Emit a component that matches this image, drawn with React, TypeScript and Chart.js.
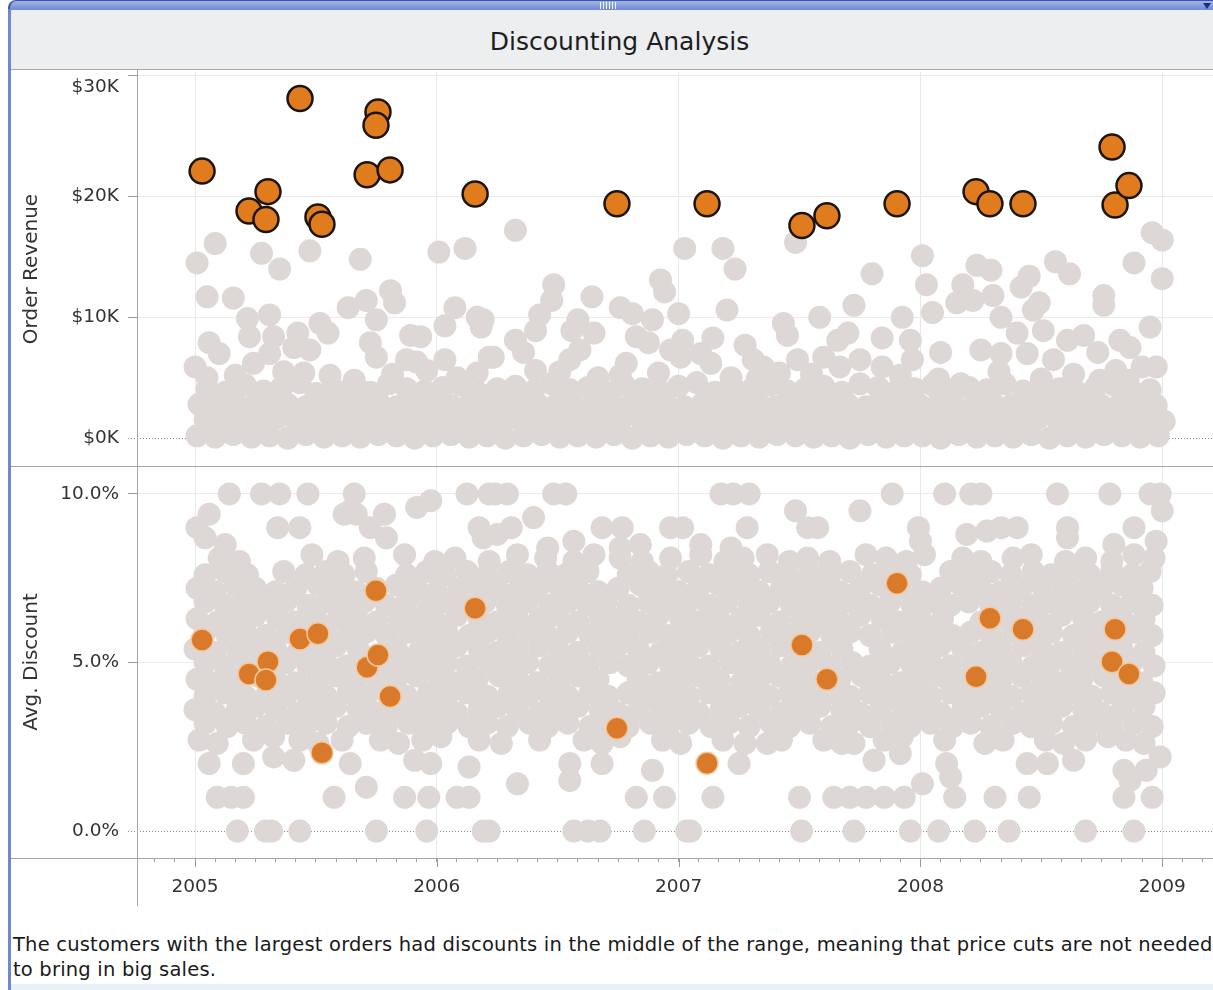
import React, { useEffect, useRef } from 'react';
import { Chart, registerables } from 'chart.js';

Chart.register(...registerables);

// ---------- DATA (x = months since Jan 2005) ----------
const yearTicks = [2005, 2006, 2007, 2008, 2009];

// highlighted largest orders
const bigOrderMonths = [0.35, 2.68, 3.62, 3.52, 5.21, 6.10, 6.30, 8.54, 9.08, 8.98, 9.68, 13.90, 20.94, 25.41, 30.12, 31.36, 34.84, 38.76, 39.45, 41.09, 45.51, 45.66, 46.35];
const bigOrderRevenueK = [22.1, 18.8, 20.4, 18.1, 28.1, 18.3, 17.7, 21.8, 27.0, 25.9, 22.2, 20.2, 19.4, 19.4, 17.6, 18.4, 19.4, 20.4, 19.4, 19.4, 24.1, 19.3, 20.9];
const bigOrderDiscountPct = [5.67, 4.66, 5.02, 4.48, 5.70, 5.85, 2.32, 4.86, 5.22, 7.13, 3.99, 6.61, 3.05, 2.01, 5.52, 4.50, 7.35, 4.58, 6.31, 5.99, 5.02, 5.99, 4.66];

// all other orders: [month, revenue $K] - dense band of small orders
const revenueBand = [
  [0.1,0.2],[1.0,0.1],[1.9,0.3],[2.8,0.1],[3.7,0.2],[4.6,0.0],[5.5,0.3],[6.4,0.1],[7.3,0.2],[8.2,0.1],[9.1,0.3],[10.0,0.2],[10.9,0.0],[11.8,0.2],[12.7,0.3],[13.6,0.1],[14.5,0.2],[15.4,0.0],[16.3,0.2],[17.2,0.3],[18.1,0.1],[19.0,0.2],[19.9,0.1],[20.8,0.3],[21.7,0.0],[22.6,0.2],[23.5,0.1],[24.4,0.3],[25.3,0.2],[26.2,0.0],[27.1,0.2],[28.0,0.1],[28.9,0.3],[29.8,0.2],[30.7,0.1],[31.6,0.2],[32.5,0.0],[33.4,0.3],[34.3,0.1],[35.2,0.2],[36.1,0.2],[37.0,0.0],[37.9,0.3],[38.8,0.1],[39.7,0.2],[40.6,0.1],[41.5,0.3],[42.4,0.0],[43.3,0.2],[44.2,0.1],[45.1,0.3],[46.0,0.2],[46.9,0.1],[47.8,0.2],
  [0.5,1.5],[1.4,1.3],[2.3,1.6],[3.3,1.4],[4.1,1.7],[5.0,1.5],[6.0,1.3],[6.8,1.6],[7.7,1.4],[8.7,1.5],[9.5,1.7],[10.4,1.3],[11.4,1.5],[12.2,1.6],[13.1,1.4],[14.1,1.5],[14.9,1.3],[15.8,1.7],[16.8,1.5],[17.6,1.4],[18.5,1.6],[19.5,1.3],[20.3,1.5],[21.2,1.6],[22.2,1.4],[23.0,1.7],[23.9,1.5],[24.9,1.3],[25.7,1.6],[26.6,1.4],[27.6,1.5],[28.4,1.7],[29.3,1.3],[30.3,1.5],[31.1,1.6],[32.0,1.4],[33.0,1.5],[33.8,1.3],[34.7,1.7],[35.7,1.5],[36.5,1.4],[37.4,1.6],[38.4,1.3],[39.2,1.5],[40.1,1.6],[41.1,1.4],[41.9,1.7],[42.8,1.5],[43.8,1.3],[44.6,1.6],[45.5,1.4],[46.5,1.5],[47.3,1.7],[48.1,1.4],
  [0.2,2.8],[1.1,2.6],[2.0,2.9],[2.9,2.7],[3.8,3.0],[4.6,2.8],[5.5,2.6],[6.4,2.9],[7.3,2.7],[8.2,2.8],[9.1,3.0],[10.0,2.6],[10.9,2.8],[11.8,2.9],[12.7,2.7],[13.6,2.8],[14.4,2.6],[15.3,3.0],[16.2,2.8],[17.1,2.7],[18.0,2.9],[18.9,2.6],[19.8,2.8],[20.7,2.9],[21.6,2.7],[22.5,3.0],[23.4,2.8],[24.3,2.6],[25.2,2.9],[26.1,2.7],[27.0,2.8],[27.9,3.0],[28.8,2.6],[29.7,2.8],[30.6,2.9],[31.5,2.7],[32.4,2.8],[33.3,2.6],[34.2,3.0],[35.1,2.8],[36.0,2.7],[36.9,2.9],[37.8,2.6],[38.7,2.8],[39.6,2.9],[40.5,2.7],[41.4,3.0],[42.3,2.8],[43.2,2.6],[44.1,2.9],[45.0,2.7],[45.9,2.8],[46.8,3.0],[47.7,2.7],
  [0.6,4.1],[1.5,3.8],[2.5,4.4],[3.4,3.9],[4.3,4.2],[5.2,4.6],[6.0,3.7],[6.9,4.0],[7.8,4.3],[8.7,3.8],[9.6,4.5],[10.5,4.1],[11.4,3.9],[12.3,4.2],[13.2,4.4],[14.1,3.7],[15.0,4.1],[15.9,4.3],[16.8,3.9],[17.7,4.5],[18.6,4.0],[19.5,4.2],[20.4,3.8],[21.3,4.4],[22.2,4.1],[23.1,3.9],[24.0,4.3],[24.9,4.6],[25.8,3.8],[26.7,4.2],[27.6,4.0],[28.5,4.4],[29.4,3.9],[30.3,4.1],[31.2,4.3],[32.1,3.8],[33.0,4.5],[33.9,4.2],[34.8,3.9],[35.7,4.1],[36.6,4.4],[37.5,3.7],[38.4,4.2],[39.3,4.0],[40.2,4.5],[41.1,3.9],[42.0,4.3],[42.9,4.1],[43.8,3.8],[44.7,4.2],[45.6,4.4],[46.5,3.9],[47.4,4.0],
];

// other orders above the band: [month, revenue $K]
const revenueSpread = [
  [1.0,16.1],[0.1,14.5],[3.3,15.3],[4.2,14.0],[5.7,15.5],[8.2,14.8],[12.1,15.4],[13.4,15.7],
  [0.6,11.7],[1.9,11.6],[2.6,9.9],[3.7,10.2],[6.2,9.5],[7.6,10.8],[8.5,11.4],[9.7,12.2],[9.9,11.2],[9.0,9.8],[12.9,10.8],[14.0,10.0],[12.4,9.3],[14.2,9.2],
  [2.7,8.4],[3.9,8.4],[5.1,8.7],[6.6,8.7],[0.7,7.9],[1.2,7.0],[2.9,6.2],[3.7,7.0],[4.9,7.5],[5.7,7.3],[8.7,7.9],[9.0,6.7],[10.7,8.5],[11.2,8.4],[10.5,6.5],[11.0,6.3],[12.4,6.5],[14.6,6.7],[14.0,5.4],[0.0,5.9],[0.6,5.0],
  [4.4,5.5],[5.4,5.4],[6.7,5.2],[7.9,4.8],[11.5,5.6],[13.0,5.0],[2.0,5.2],[9.8,5.3],
  [15.9,17.2],[24.3,15.7],[26.2,15.7],[26.8,14.0],[23.1,13.1],[23.3,12.1],[17.8,12.7],[17.7,11.4],[19.7,11.7],[24.0,10.3],[26.4,10.6],[31.0,10.0],[14.3,9.8],[17.1,10.2],[16.9,8.9],[19.0,9.8],[18.7,8.9],[19.8,8.7],[21.1,10.8],[21.7,10.3],[22.7,9.8],[29.2,9.5],[29.4,8.5],[31.9,8.1],[15.9,8.1],[16.3,7.1],[14.8,6.7],[19.1,7.3],[21.9,8.4],[22.5,7.9],[24.2,8.1],[25.7,8.3],[27.3,7.7],[18.6,6.5],[21.4,6.2],[23.6,7.3],[24.1,6.7],[25.1,7.0],[25.6,6.2],[27.7,6.5],[28.2,5.9],[29.9,6.5],[31.2,6.7],[29.0,5.4],[18.1,5.5],[21.1,5.2],[26.6,5.0],[16.9,5.6],[20.0,5.0],[23.0,5.4],[27.9,4.9],[30.6,5.3],
  [29.8,16.2],
  [47.5,17.0],[48.0,16.4],[36.1,15.1],[33.6,13.6],[38.8,14.3],[39.5,13.9],[42.7,14.6],[43.4,13.6],[46.6,14.5],[48.0,13.2],[36.3,12.7],[38.1,12.7],[41.0,12.5],[41.4,13.4],[39.6,11.8],[45.1,11.8],[32.7,11.0],[35.1,10.0],[36.6,10.4],[37.8,11.2],[38.6,11.4],[40.0,10.0],[41.9,11.2],[41.6,10.6],[45.1,11.0],[47.4,9.2],[32.4,8.7],[34.1,8.3],[35.5,8.1],[40.8,8.7],[42.1,8.9],[43.3,8.1],[44.1,8.5],[45.9,8.1],[46.4,7.5],[39.0,7.3],[37.0,7.1],[35.6,6.5],[34.1,5.9],[33.0,6.5],[40.0,7.0],[41.3,7.0],[42.6,6.5],[44.8,7.1],[47.0,5.9],[47.7,5.9],[32.0,5.9],[38.0,4.5],[44.9,4.8],[46.3,4.8],
  [35.0,5.2],[36.9,4.9],[39.9,5.5],[42.0,4.9],[43.6,5.3],[45.7,5.6],
];

// all other orders: [month, avg discount %] - the main cloud
const discountCloudUpper = [
  [1.2,8.1],[2.2,8.0],[5.8,8.2],[7.1,8.0],[8.4,8.1],[10.4,8.2],[11.9,8.0],[12.9,8.1],[14.6,8.0],[16.0,8.2],[17.4,8.1],[18.8,8.0],[19.8,8.2],[21.1,8.1],[22.2,8.0],[23.6,8.1],[25.1,8.2],[26.3,8.0],[27.2,8.1],[28.4,8.2],[29.5,8.0],[30.4,8.1],[31.5,8.0],[33.3,8.2],[34.3,8.1],[35.3,8.0],[36.2,8.2],[38.1,8.1],[39.0,8.0],[40.6,8.1],[41.5,8.2],[43.2,8.0],[44.2,8.1],[45.5,8.0],[46.6,8.2],[47.6,8.1],
  [0.5,7.6],[1.5,7.7],[2.6,7.6],[4.4,7.7],[5.5,7.6],[6.5,7.7],[7.4,7.6],[8.5,7.7],[10.5,7.6],[11.5,7.7],[12.4,7.6],[13.5,7.7],[14.5,7.6],[15.6,7.7],[16.5,7.6],[17.5,7.7],[18.4,7.6],[19.5,7.7],[21.5,7.6],[22.5,7.7],[23.4,7.6],[24.5,7.7],[25.5,7.6],[26.6,7.7],[27.5,7.6],[28.5,7.7],[29.4,7.6],[30.5,7.7],[31.5,7.6],[32.5,7.7],[33.6,7.6],[34.5,7.7],[35.5,7.6],[37.5,7.7],[38.4,7.6],[39.5,7.7],[40.5,7.6],[41.6,7.7],[42.5,7.6],[43.5,7.7],[44.4,7.6],[45.5,7.7],[46.5,7.6],[47.4,7.7],
  [0.1,7.2],[1.0,7.1],[2.0,7.3],[3.0,7.2],[4.0,7.1],[5.0,7.2],[6.1,7.3],[7.0,7.2],[8.0,7.1],[9.0,7.2],[10.0,7.3],[11.0,7.2],[12.0,7.1],[13.1,7.2],[14.0,7.3],[15.0,7.2],[16.0,7.1],[17.0,7.2],[18.0,7.3],[19.0,7.2],[20.0,7.1],[21.0,7.2],[22.1,7.3],[23.0,7.2],[24.0,7.1],[25.0,7.2],[26.0,7.3],[27.0,7.2],[28.0,7.1],[29.1,7.2],[30.0,7.3],[31.0,7.2],[32.0,7.1],[33.0,7.2],[34.0,7.3],[35.0,7.2],[36.1,7.1],[37.0,7.2],[38.0,7.3],[39.0,7.2],[40.0,7.1],[41.0,7.2],[42.0,7.3],[43.1,7.2],[44.0,7.1],[45.0,7.2],[46.0,7.3],[47.0,7.2],
  [0.5,6.8],[1.5,6.7],[2.4,6.8],[3.5,6.7],[4.5,6.8],[5.6,6.7],[6.5,6.8],[7.5,6.7],[8.4,6.8],[9.5,6.7],[10.5,6.8],[11.6,6.7],[12.5,6.8],[13.5,6.7],[14.4,6.8],[15.5,6.7],[16.5,6.8],[17.6,6.7],[18.5,6.8],[19.5,6.7],[20.4,6.8],[21.5,6.7],[22.5,6.8],[23.6,6.7],[24.5,6.8],[25.5,6.7],[26.4,6.8],[27.5,6.7],[28.5,6.8],[29.6,6.7],[30.5,6.8],[31.5,6.7],[32.4,6.8],[33.5,6.7],[34.5,6.8],[35.6,6.7],[36.5,6.8],[37.5,6.7],[38.4,6.8],[39.5,6.7],[40.5,6.8],[41.6,6.7],[42.5,6.8],[43.5,6.7],[44.4,6.8],[45.5,6.7],[46.5,6.8],[47.5,6.7],
];

const discountCloudMiddle = [
  [0.1,6.3],[1.1,6.2],[2.0,6.3],[3.0,6.4],[4.1,6.3],[5.0,6.2],[6.0,6.3],[7.1,6.3],[8.0,6.4],[9.0,6.2],[10.1,6.3],[11.0,6.3],[12.0,6.2],[13.0,6.4],[14.1,6.3],[15.0,6.2],[16.0,6.3],[17.1,6.3],[18.0,6.4],[19.0,6.2],[20.1,6.3],[21.0,6.3],[22.0,6.2],[23.0,6.4],[24.1,6.3],[25.0,6.2],[26.0,6.3],[27.1,6.3],[28.0,6.4],[29.0,6.2],[30.1,6.3],[31.0,6.3],[32.0,6.2],[33.0,6.4],[34.1,6.3],[35.0,6.2],[36.0,6.3],[37.1,6.3],[39.0,6.2],[40.1,6.3],[41.0,6.3],[42.0,6.2],[43.0,6.4],[44.1,6.3],[45.0,6.2],[46.0,6.3],[47.1,6.3],
  [0.5,5.9],[1.6,5.8],[2.5,5.9],[3.5,5.8],[4.6,5.9],[5.5,5.8],[6.5,5.9],[7.6,5.8],[8.5,5.9],[9.5,5.8],[10.6,5.9],[11.5,5.8],[12.5,5.9],[13.6,5.8],[14.5,5.9],[15.5,5.8],[16.6,5.9],[17.5,5.8],[18.5,5.9],[19.6,5.8],[20.5,5.9],[21.5,5.8],[22.6,5.9],[23.5,5.8],[24.5,5.9],[25.6,5.8],[26.5,5.9],[27.5,5.8],[28.6,5.9],[29.5,5.8],[30.5,5.9],[31.6,5.8],[32.5,5.9],[33.5,5.8],[34.6,5.9],[35.5,5.8],[36.5,5.9],[37.6,5.8],[38.5,5.9],[39.5,5.8],[40.6,5.9],[41.5,5.8],[42.5,5.9],[43.6,5.8],[44.5,5.9],[45.5,5.8],[46.6,5.9],[47.5,5.8],
  [0.0,5.4],[1.0,5.3],[2.1,5.4],[3.0,5.5],[4.0,5.4],[5.1,5.3],[6.0,5.4],[7.0,5.5],[8.1,5.4],[10.0,5.4],[11.1,5.3],[12.0,5.4],[13.0,5.5],[14.1,5.4],[15.0,5.3],[16.0,5.4],[17.1,5.5],[18.0,5.4],[19.0,5.3],[20.1,5.4],[21.0,5.5],[22.0,5.4],[23.1,5.3],[24.0,5.4],[25.0,5.5],[26.1,5.4],[27.0,5.3],[28.0,5.4],[29.1,5.5],[30.0,5.4],[31.0,5.3],[32.1,5.4],[34.0,5.4],[35.1,5.3],[36.0,5.4],[37.0,5.5],[38.1,5.4],[39.0,5.3],[40.0,5.4],[41.1,5.5],[42.0,5.4],[43.0,5.3],[44.1,5.4],[45.0,5.5],[46.0,5.4],[47.1,5.3],
  [0.5,5.0],[1.5,4.9],[2.6,5.0],[3.5,4.9],[4.5,5.0],[5.6,4.9],[6.5,5.0],[7.5,4.9],[8.6,5.0],[9.5,4.9],[10.5,5.0],[11.6,4.9],[12.5,5.0],[13.5,4.9],[14.6,5.0],[15.5,4.9],[16.5,5.0],[17.6,4.9],[18.5,5.0],[19.5,4.9],[20.6,5.0],[21.5,4.9],[22.5,5.0],[23.6,4.9],[24.5,5.0],[25.5,4.9],[26.6,5.0],[27.5,4.9],[28.5,5.0],[29.6,4.9],[30.5,5.0],[31.5,4.9],[32.6,5.0],[33.5,4.9],[34.5,5.0],[35.6,4.9],[36.5,5.0],[37.5,4.9],[38.6,5.0],[39.5,4.9],[40.5,5.0],[41.6,4.9],[42.5,5.0],[43.5,4.9],[44.6,5.0],[45.5,4.9],[46.5,5.0],[47.6,4.9],
  [0.1,4.5],[1.0,4.4],[2.0,4.5],[3.1,4.6],[4.0,4.5],[5.0,4.4],[6.1,4.5],[7.0,4.6],[8.0,4.5],[9.1,4.4],[10.0,4.5],[11.0,4.6],[12.1,4.5],[13.0,4.4],[14.0,4.5],[15.1,4.6],[16.0,4.5],[17.0,4.4],[18.1,4.5],[19.0,4.6],[20.0,4.5],[22.0,4.5],[23.0,4.4],[24.1,4.5],[25.0,4.6],[26.0,4.5],[27.1,4.4],[28.0,4.5],[29.0,4.6],[30.1,4.5],[31.0,4.4],[32.0,4.5],[33.1,4.6],[34.0,4.5],[35.0,4.4],[36.1,4.5],[37.0,4.6],[38.0,4.5],[39.1,4.4],[40.0,4.5],[41.0,4.6],[42.1,4.5],[43.0,4.4],[44.0,4.5],[45.1,4.6],[46.0,4.5],[47.0,4.4],
];

const discountCloudLower = [
  [0.5,4.0],[1.5,4.1],[2.5,4.0],[3.6,4.1],[4.5,4.0],[5.5,4.1],[6.5,4.0],[7.6,4.1],[8.5,4.0],[9.5,4.1],[10.5,4.0],[11.6,4.1],[12.5,4.0],[13.5,4.1],[14.5,4.0],[15.6,4.1],[16.5,4.0],[17.5,4.1],[18.5,4.0],[19.6,4.1],[20.5,4.0],[21.5,4.1],[22.5,4.0],[23.6,4.1],[24.5,4.0],[25.5,4.1],[26.5,4.0],[27.6,4.1],[28.5,4.0],[29.5,4.1],[30.5,4.0],[31.6,4.1],[32.5,4.0],[33.5,4.1],[34.5,4.0],[35.6,4.1],[36.5,4.0],[37.5,4.1],[38.5,4.0],[39.6,4.1],[40.5,4.0],[41.5,4.1],[42.5,4.0],[43.6,4.1],[44.5,4.0],[45.5,4.1],[46.5,4.0],[47.6,4.1],
  [0.0,3.6],[1.0,3.5],[2.1,3.6],[3.0,3.7],[4.0,3.6],[5.1,3.5],[6.0,3.6],[7.0,3.7],[8.1,3.6],[9.0,3.5],[10.0,3.6],[11.1,3.7],[12.0,3.6],[13.0,3.5],[14.1,3.6],[15.0,3.7],[16.0,3.6],[17.1,3.5],[18.0,3.6],[19.0,3.7],[20.1,3.6],[21.0,3.5],[22.0,3.6],[23.1,3.7],[24.0,3.6],[25.0,3.5],[26.1,3.6],[27.0,3.7],[28.0,3.6],[29.1,3.5],[30.0,3.6],[31.0,3.7],[32.1,3.6],[33.0,3.5],[34.0,3.6],[35.1,3.7],[36.0,3.6],[37.0,3.5],[38.1,3.6],[39.0,3.7],[40.0,3.6],[41.1,3.5],[42.0,3.6],[43.0,3.7],[44.1,3.6],[45.0,3.5],[46.0,3.6],[47.1,3.7],
  [0.5,3.2],[1.6,3.1],[2.5,3.2],[3.5,3.1],[4.6,3.2],[5.5,3.1],[6.5,3.2],[7.6,3.1],[8.5,3.2],[9.5,3.1],[10.6,3.2],[11.5,3.1],[12.5,3.2],[13.6,3.1],[14.5,3.2],[15.5,3.1],[16.6,3.2],[17.5,3.1],[18.5,3.2],[19.6,3.1],[20.5,3.2],[21.5,3.1],[22.6,3.2],[23.5,3.1],[24.5,3.2],[25.6,3.1],[26.5,3.2],[27.5,3.1],[28.6,3.2],[29.5,3.1],[30.5,3.2],[31.6,3.1],[32.5,3.2],[33.5,3.1],[34.6,3.2],[35.5,3.1],[36.5,3.2],[37.6,3.1],[38.5,3.2],[39.5,3.1],[40.6,3.2],[41.5,3.1],[42.5,3.2],[43.6,3.1],[44.5,3.2],[45.5,3.1],[46.6,3.2],[47.5,3.1],
  [0.2,2.7],[1.1,2.6],[2.9,2.7],[3.9,2.8],[5.2,2.7],[6.1,2.6],[7.3,2.7],[9.2,2.7],[10.1,2.6],[11.3,2.7],[12.2,2.8],[14.1,2.7],[15.2,2.6],[17.1,2.7],[19.3,2.7],[20.2,2.6],[21.1,2.8],[23.2,2.7],[24.1,2.6],[26.2,2.7],[27.3,2.6],[29.1,2.7],[31.2,2.7],[32.1,2.6],[34.2,2.7],[35.1,2.8],[37.2,2.7],[39.2,2.6],[40.1,2.7],[42.2,2.7],[43.1,2.6],[44.2,2.7],[45.3,2.8],[46.2,2.7],[47.1,2.6],
];

// orders outside the cloud (single-rate discounts and stragglers): [month, %]
const discountSpread = [
  [1.7,10],[3.3,10],[4.2,10],[5.6,10],[7.9,10],[13.5,10],[14.6,10],[14.9,10],[15.5,10],[17.8,10],[18.4,10],[26.1,10],[26.7,10],[27.5,10],[34.6,10],[37.2,10],[38.5,10],[39.0,10],[42.8,10],[45.4,10],[47.4,10],[47.9,10],
  [0.7,9.4],[7.4,9.4],[9.4,9.4],[11.0,9.6],[11.7,9.8],[16.8,9.3],[29.8,9.5],[33.0,9.5],[48.0,9.5],[7.7,9.5],[8.0,9.4],
  [0.1,9],[4.1,9],[5.2,9],[8.7,9],[14.1,9],[15.7,9],[20.2,9],[21.2,9],[23.6,9],[24.2,9],[27.4,9],[30.4,9],[30.9,9],[35.9,9],[40.0,9],[40.8,9],[43.3,9],[46.6,9],
  [9.5,8.7],[14.3,8.7],[17.5,8.4],[18.8,8.6],[22.1,8.5],[21.1,8.4],[25.1,8.5],[26.6,8.4],[38.3,8.8],[39.3,8.9],[43.3,8.7],[45.6,8.5],[47.7,8.6],[1.5,8.5],[15.0,8.8],[36.0,8.6],[0.5,8.7],
  [0.7,2.0],[2.4,2.0],[3.9,2.2],[4.9,2.1],[7.7,2.0],[8.5,1.3],[10.9,2.1],[11.7,2.0],[13.6,1.9],[18.6,2.0],[20.2,2.0],[22.7,1.8],[18.6,1.5],[27.0,2.0],[28.4,2.6],[36.1,1.4],[37.5,1.6],[41.3,2.0],[42.3,2.0],[43.6,2.1],[46.1,1.8],[47.9,2.2],[47.2,1.8],[16.0,1.4],[46.4,1.5],[32.7,2.6],[33.7,2.1],[35.0,2.3],[37.3,2.0],
  [1.1,1],[1.8,1],[2.4,1],[6.9,1],[10.4,1],[11.6,1],[13.0,1],[13.6,1],[21.9,1],[23.3,1],[25.7,1],[30.0,1],[31.7,1],[32.5,1],[33.3,1],[34.2,1],[35.2,1],[37.7,1],[39.7,1],[41.4,1],[46.1,1],[47.5,1],
  [2.1,0],[3.5,0],[3.8,0],[5.2,0],[9.0,0],[11.5,0],[14.3,0],[14.6,0],[18.8,0],[19.5,0],[20.1,0],[22.3,0],[24.4,0],[24.6,0],[30.1,0],[32.7,0],[35.5,0],[36.9,0],[38.7,0],[40.4,0],[44.2,0],[46.6,0],
];

// ---------- AXIS RANGES ----------
const X_MIN = -2.88;
const X_MAX = 50.52;
const REV_MIN = -2.3;
const REV_MAX = 30.3;
const DISC_MIN = -0.8;
const DISC_MAX = 10.83;

const GRAY = '#ddd8d5';
const GRAY_R = 11.5;
const FONT = 'DejaVu Sans';

const toPts = (arr: number[][]) => arr.map(([x, y]) => ({ x, y }));

const zeroLine = {
  id: 'zeroLine',
  beforeDatasetsDraw(chart: any) {
    const { ctx, chartArea, scales } = chart;
    const y = Math.round(scales.y.getPixelForValue(0)) + 0.5;
    ctx.save();
    ctx.strokeStyle = '#8a8a8a';
    ctx.lineWidth = 1;
    ctx.setLineDash([1, 2]);
    ctx.beginPath();
    ctx.moveTo(chartArea.left - 9, y);
    ctx.lineTo(chartArea.right, y);
    ctx.stroke();
    ctx.restore();
  },
};

const yearTickMarks = {
  id: 'yearTickMarks',
  afterDraw(chart: any) {
    const { ctx, chartArea, scales } = chart;
    ctx.save();
    ctx.strokeStyle = '#9a9a9a';
    ctx.lineWidth = 1;
    yearTicks.forEach((yr) => {
      const x = Math.round(scales.x.getPixelForValue((yr - 2005) * 12)) + 0.5;
      ctx.beginPath();
      ctx.moveTo(x, chartArea.bottom);
      ctx.lineTo(x, chartArea.bottom + 9);
      ctx.stroke();
    });
    ctx.restore();
  },
};

const zeroPad = (s: any) => {
  s.paddingTop = 0;
  s.paddingBottom = 0;
  s.paddingLeft = 0;
  s.paddingRight = 0;
};

export default function App() {
  const topRef = useRef<HTMLCanvasElement>(null);
  const botRef = useRef<HTMLCanvasElement>(null);

  useEffect(() => {
    Chart.defaults.font.family = FONT;
    const yearGrid = (ctx: any) => (ctx.tick && ctx.tick.value % 12 === 0 ? '#e8e8e8' : 'transparent');

    const top = new Chart(topRef.current as HTMLCanvasElement, {
      type: 'scatter',
      data: {
        datasets: [
          {
            data: bigOrderMonths.map((m, i) => ({ x: m, y: bigOrderRevenueK[i] })),
            backgroundColor: '#e17c1e',
            borderColor: '#1c140e',
            borderWidth: 2.5,
            pointRadius: 12.5,
            order: 0,
          },
          {
            data: toPts([...revenueBand, ...revenueSpread]),
            backgroundColor: GRAY,
            borderWidth: 0,
            pointRadius: GRAY_R,
            order: 1,
          },
        ],
      },
      options: {
        animation: false,
        responsive: false,
        devicePixelRatio: 1,
        events: [],
        layout: { autoPadding: false, padding: { top: 4, bottom: 2, left: 0, right: 0 } },
        plugins: { legend: { display: false }, tooltip: { enabled: false } },
        scales: {
          x: {
            type: 'linear',
            min: X_MIN,
            max: X_MAX,
            ticks: { display: false, stepSize: 12, includeBounds: false },
            grid: { color: yearGrid, drawTicks: false },
            border: { display: false },
            afterFit: (s: any) => { s.height = 0; zeroPad(s); },
          },
          y: {
            min: REV_MIN,
            max: REV_MAX,
            ticks: {
              stepSize: 10,
              includeBounds: false,
              padding: 9,
              color: '#333',
              font: { size: 18.5 },
              callback: (v: any) => (v === 30 ? ['', '$30K'] : `$${v}K`),
            },
            grid: {
              color: (ctx: any) => (ctx.tick && ctx.tick.value === 0 ? 'transparent' : '#ebebeb'),
              tickColor: (ctx: any) => (ctx.tick && ctx.tick.value === 0 ? 'transparent' : '#9a9a9a'),
              tickLength: 9,
            },
            border: { display: false },
            title: { display: true, text: 'Order Revenue', color: '#333', font: { size: 20 }, padding: { top: 9, bottom: 0 } },
            afterFit: (s: any) => { s.width = 126; zeroPad(s); },
          },
        },
      },
      plugins: [zeroLine],
    } as any);

    const bot = new Chart(botRef.current as HTMLCanvasElement, {
      type: 'scatter',
      data: {
        datasets: [
          {
            data: bigOrderMonths.map((m, i) => ({ x: m, y: bigOrderDiscountPct[i] })),
            backgroundColor: '#d97a2b',
            borderColor: 'rgba(247,200,156,0.95)',
            borderWidth: 1.5,
            pointRadius: 11,
            order: 0,
          },
          {
            data: toPts([...discountCloudUpper, ...discountCloudMiddle, ...discountCloudLower, ...discountSpread]),
            backgroundColor: GRAY,
            borderWidth: 0,
            pointRadius: GRAY_R,
            order: 1,
          },
        ],
      },
      options: {
        animation: false,
        responsive: false,
        devicePixelRatio: 1,
        events: [],
        layout: { autoPadding: false, padding: 0 },
        plugins: { legend: { display: false }, tooltip: { enabled: false } },
        scales: {
          x: {
            type: 'linear',
            min: X_MIN,
            max: X_MAX,
            ticks: {
              stepSize: 1,
              includeBounds: false,
              autoSkip: false,
              maxRotation: 0,
              minRotation: 0,
              padding: 14,
              color: '#333',
              font: { size: 18.5 },
              callback: (v: any) => (v % 12 === 0 ? String(2005 + v / 12) : ''),
            },
            grid: { color: yearGrid, tickColor: '#a0a0a0', tickLength: 4 },
            border: { display: false },
            afterFit: (s: any) => { s.height = 48; zeroPad(s); },
          },
          y: {
            min: DISC_MIN,
            max: DISC_MAX,
            ticks: {
              stepSize: 5,
              includeBounds: false,
              padding: 9,
              color: '#333',
              font: { size: 18.5 },
              callback: (v: any) => `${Number(v).toFixed(1)}%`,
            },
            grid: {
              color: (ctx: any) => (ctx.tick && ctx.tick.value === 0 ? 'transparent' : '#ebebeb'),
              tickColor: (ctx: any) => (ctx.tick && ctx.tick.value === 0 ? 'transparent' : '#9a9a9a'),
              tickLength: 9,
            },
            border: { display: false },
            title: { display: true, text: 'Avg. Discount', color: '#333', font: { size: 20 }, padding: { top: 9, bottom: 0 } },
            afterFit: (s: any) => { s.width = 126; zeroPad(s); },
          },
        },
      },
      plugins: [zeroLine, yearTickMarks],
    } as any);

    return () => {
      top.destroy();
      bot.destroy();
    };
  }, []);

  const line = (style: React.CSSProperties) => (
    <div style={{ position: 'absolute', background: '#a6a6a6', ...style }} />
  );

  return (
    <div style={{ position: 'fixed', left: 0, top: 0, width: 1213, height: 990, background: '#fff', overflow: 'hidden', fontFamily: FONT }}>
      {/* window bar */}
      <div style={{ position: 'absolute', left: 8, top: 0, width: 1220, height: 10, boxSizing: 'border-box', background: 'linear-gradient(#9fb4e8, #6f8bd2)', borderTop: '1px solid #3d55a6', borderLeft: '2px solid #3d55a6', borderTopLeftRadius: 8 }} />
      <div style={{ position: 'absolute', left: 600, top: 2, width: 17, height: 7, background: 'repeating-linear-gradient(90deg, #f1f4fd 0 1px, transparent 1px 3px)' }} />
      <div style={{ position: 'absolute', left: 1203, top: 3, width: 0, height: 0, borderLeft: '4px solid transparent', borderRight: '4px solid transparent', borderTop: '6px solid #1c2c78' }} />
      <div style={{ position: 'absolute', left: 8, top: 9, width: 3, height: 981, background: '#7187d4' }} />
      {/* title */}
      <div style={{ position: 'absolute', left: 11, top: 10, width: 1202, height: 59, background: '#eceef0', borderBottom: '1px solid #a6a6a6', boxSizing: 'content-box' }}>
        <div style={{ position: 'absolute', left: 15, right: 0, top: 17, textAlign: 'center', fontSize: 25, lineHeight: '30px', color: '#1e1e1e' }}>Discounting Analysis</div>
      </div>
      <canvas ref={topRef} width={1202} height={400} style={{ position: 'absolute', left: 11, top: 68 }} />
      <canvas ref={botRef} width={1202} height={440} style={{ position: 'absolute', left: 11, top: 466 }} />
      {line({ left: 11, top: 466, width: 1202, height: 1 })}
      {line({ left: 11, top: 858, width: 1202, height: 1 })}
      {line({ left: 137, top: 70, width: 1, height: 836 })}
      {/* caption */}
      <div style={{ position: 'absolute', left: 13, top: 932, whiteSpace: 'nowrap', fontSize: 19.5, letterSpacing: '0.2px', lineHeight: '25px', color: '#1a1a1a' }}>
        The customers with the largest orders had discounts in the middle of the range, meaning that price cuts are not needed
        <br />
        to bring in big sales.
      </div>
      <div style={{ position: 'absolute', left: 11, top: 984, width: 1202, height: 6, background: '#e8f0fa' }} />
    </div>
  );
}
